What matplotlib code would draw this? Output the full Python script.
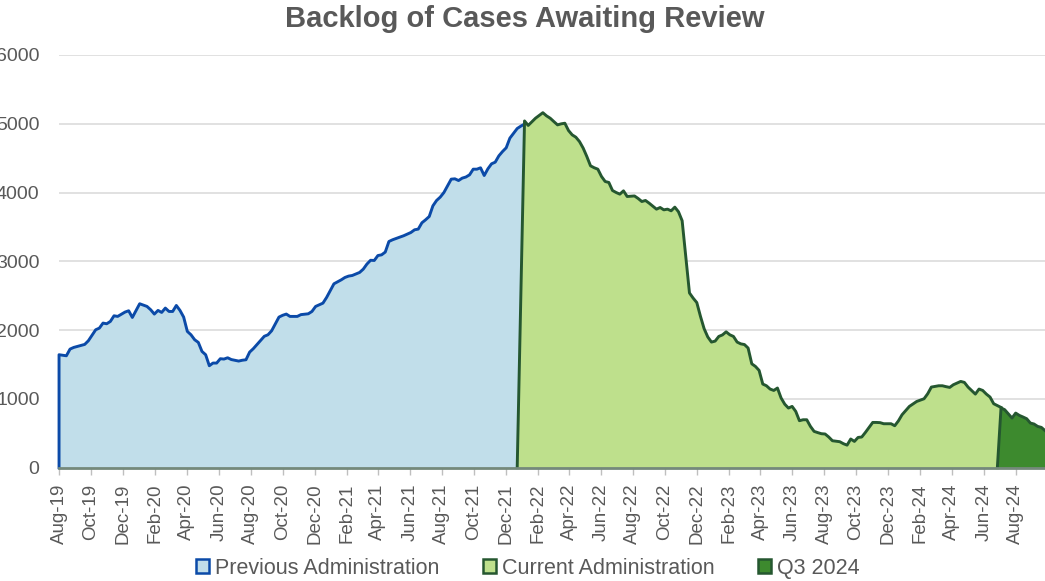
import matplotlib
matplotlib.use('Agg')
import matplotlib.pyplot as plt
import matplotlib.dates as mdates
from matplotlib.patches import Patch
import numpy as np
import pandas as pd

plt.rcParams['font.family'] = ['Liberation Sans', 'DejaVu Sans']

# ---------------- data (week index counted from start_date) ----------------
start_date = '2019-08-01'

weeks_prev = [0, 2, 3, 4, 7, 8, 10, 11, 12, 13, 14, 15, 16, 18, 19, 20, 22, 24, 25, 26,
              27, 28, 29, 30, 31, 32, 33, 34, 35, 36, 37, 38, 39, 40, 41, 42, 43, 44, 45, 46,
              47, 49, 50, 51, 52, 53, 56, 57, 58, 60, 61, 62, 63, 65, 66, 68, 69, 70, 72, 73,
              75, 77, 78, 79, 80, 82, 83, 84, 85, 86, 87, 88, 89, 90, 91, 93, 94, 96, 97, 98,
              99, 100, 101, 102, 103, 104, 105, 106, 107, 108, 109, 110, 111, 112, 113, 114,
              115, 116, 117, 118, 119, 120, 121, 122, 123, 124, 125, 126, 127]
backlog_prev = [1642, 1627, 1724, 1748, 1792, 1845, 2005, 2029, 2102, 2092, 2126, 2208, 2199,
                2262, 2281, 2184, 2383, 2344, 2296, 2233, 2286, 2257, 2320, 2271, 2271, 2358,
                2286, 2189, 1981, 1932, 1860, 1821, 1690, 1642, 1482, 1521, 1521, 1584, 1579,
                1598, 1572, 1550, 1562, 1569, 1680, 1730, 1910, 1932, 1990, 2189, 2215, 2233,
                2199, 2199, 2225, 2237, 2271, 2344, 2392, 2475, 2673, 2731, 2765, 2785, 2794,
                2838, 2886, 2960, 3015, 3012, 3084, 3094, 3134, 3288, 3313, 3352, 3371, 3419,
                3458, 3468, 3560, 3603, 3651, 3806, 3884, 3933, 4000, 4097, 4194, 4199, 4174,
                4209, 4225, 4257, 4339, 4339, 4359, 4247, 4344, 4417, 4441, 4533, 4596, 4650,
                4790, 4860, 4930, 4965, 4995]

weeks_curr = [125, 127, 128, 130, 131, 132, 133, 134, 135, 136, 137, 138, 139, 140, 141, 142,
              143, 144, 145, 146, 147, 148, 149, 150, 151, 152, 153, 154, 155, 157, 158, 159,
              160, 161, 163, 164, 165, 166, 167, 168, 169, 170, 172, 173, 174, 175, 176, 177,
              178, 179, 180, 181, 182, 183, 184, 185, 186, 187, 188, 189, 190, 191, 192, 193,
              194, 195, 196, 197, 198, 199, 200, 201, 202, 203, 204, 205, 206, 207, 208, 209,
              210, 211, 213, 214, 215, 216, 217, 218, 219, 220, 222, 223, 224, 225, 227, 228,
              229, 230, 232, 234, 236, 237, 238, 240, 241, 242, 243, 244, 246, 247, 248, 250,
              251, 252, 253, 254, 255, 257]
backlog_curr = [0, 5040, 4975, 5080, 5120, 5160, 5114, 5080, 5031, 4983, 4998, 5007, 4901,
                4838, 4804, 4740, 4645, 4523, 4388, 4360, 4339, 4233, 4160, 4146, 4029, 4000,
                3976, 4024, 3942, 3950, 3913, 3869, 3884, 3845, 3758, 3782, 3748, 3758, 3734,
                3787, 3720, 3590, 2540, 2465, 2400, 2200, 2020, 1900, 1826, 1840, 1908, 1930,
                1975, 1932, 1908, 1826, 1800, 1790, 1739, 1510, 1472, 1414, 1216, 1191, 1143,
                1123, 1158, 1013, 923, 867, 891, 818, 683, 697, 697, 601, 528, 510, 494, 490,
                446, 392, 378, 349, 328, 417, 382, 440, 446, 513, 658, 658, 655, 639, 639, 610,
                680, 770, 891, 963, 1002, 1075, 1172, 1191, 1191, 1178, 1167, 1206, 1254, 1240,
                1172, 1070, 1143, 1123, 1070, 1027, 930, 876]

weeks_q3 = [256, 257, 258, 260, 261, 262, 263, 264, 265, 266, 267, 268, 269]
backlog_q3 = [0, 870, 843, 722, 794, 760, 737, 712, 649, 635, 600, 586, 540]

series_names = ['Previous Administration', 'Current Administration', 'Q3 2024']
y_ticks = [0, 1000, 2000, 3000, 4000, 5000, 6000]
title_text = 'Backlog of Cases Awaiting Review'

# ---------------- styles ----------------
fills = ['#C1DEEA', '#BEE08C', '#3D8A2E']
lines = ['#0B4AA8', '#255730', '#255730']
text_col = '#595959'

base = pd.Timestamp(start_date)


def to_x(weeks):
    d = base + pd.to_timedelta(np.asarray(weeks) * 7, unit='D')
    return mdates.date2num(d.to_pydatetime())


fig = plt.figure(figsize=(10.45, 5.81), dpi=100)
ax = fig.add_axes([0.0565, 0.195, 0.9435, 0.7105])

series = [(weeks_prev, backlog_prev), (weeks_curr, backlog_curr), (weeks_q3, backlog_q3)]
for i, (w, v) in enumerate(series):
    x = to_x(w)
    v = np.asarray(v, dtype=float)
    ax.fill_between(x, 0, v, color=fills[i], linewidth=0, zorder=2 + i)
    if i == 0:
        xl = np.concatenate([[x[0]], x])
        vl = np.concatenate([[0], v])
    else:
        xl, vl = x, v
    ax.plot(xl, vl, color=lines[i], linewidth=2.1, solid_joinstyle='round',
            zorder=2.5 + i, clip_on=False)

x_all0 = to_x(weeks_prev)[0]
x_all1 = to_x(weeks_q3)[-1]
ax.set_xlim(x_all0, x_all1)
ax.set_ylim(0, 6000)
ax.set_yticks(y_ticks)
ax.set_yticklabels([str(t) for t in y_ticks])

ax.xaxis.set_major_locator(mdates.MonthLocator(bymonth=[2, 4, 6, 8, 10, 12]))
ax.xaxis.set_major_formatter(mdates.DateFormatter('%b-%y'))

ax.grid(axis='y', color='#D9D9D9', linewidth=1.1, zorder=0)
ax.set_axisbelow(True)
for s in ['top', 'right', 'left']:
    ax.spines[s].set_visible(False)
ax.spines['bottom'].set_color('#74897B')
ax.spines['bottom'].set_linewidth(2.0)
ax.spines['bottom'].set_zorder(10)

ax.tick_params(axis='y', length=0, pad=14, labelsize=14, labelcolor=text_col)
ax.tick_params(axis='x', length=5, width=1, color='#BFBFBF', pad=6.5, labelsize=13.5,
               labelcolor=text_col, labelrotation=90)

fig.text(0.502, 0.968, title_text, ha='center', va='center', fontsize=21,
         fontweight='bold', color=text_col)

handles = [Patch(facecolor=fills[i], edgecolor=lines[i], linewidth=1.8) for i in range(3)]
fig.legend(handles, series_names, loc='center', bbox_to_anchor=(0.505, 0.022), ncol=3,
           frameon=False, fontsize=15.5, handlelength=0.6, handleheight=0.6,
           handletextpad=0.3, columnspacing=2.0, labelcolor=text_col, borderpad=0)

fig.savefig('out.png', dpi=100)
